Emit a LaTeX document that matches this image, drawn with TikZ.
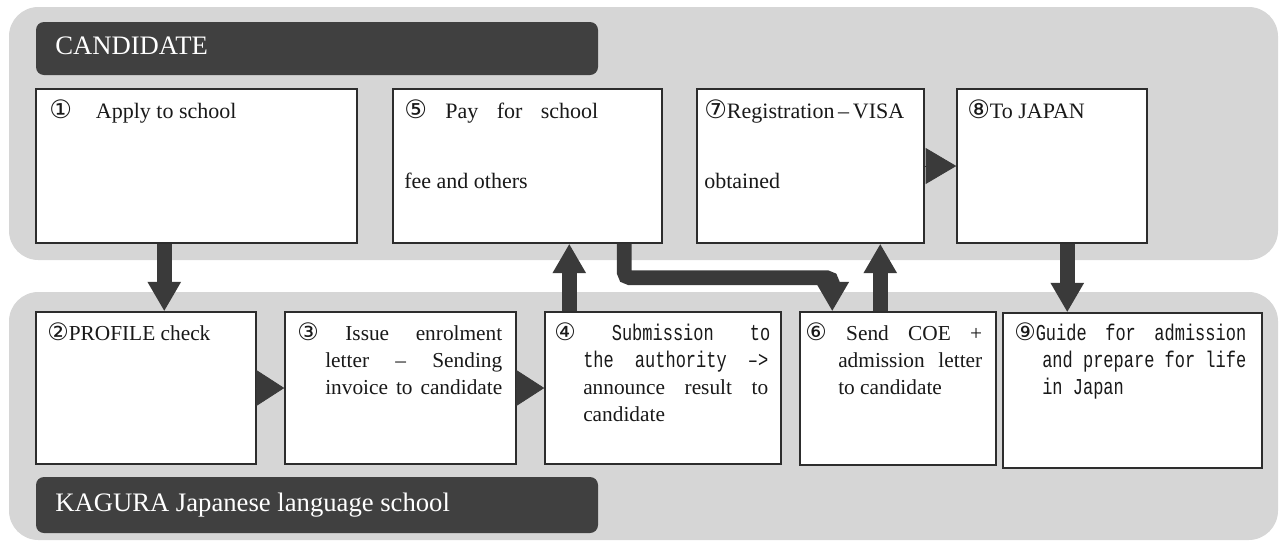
\documentclass[tikz,border=0pt]{standalone}
\usepackage{fontspec}
\setmainfont{Liberation Serif}
\newfontfamily\circf{DejaVu Sans}
\newfontfamily\monof[FakeStretch=0.75]{Liberation Mono}
\usetikzlibrary{arrows.meta,calc,fit}
\definecolor{panelgray}{RGB}{214,214,214}
\definecolor{bardark}{RGB}{64,64,64}
\definecolor{arrowdark}{RGB}{58,58,58}
\definecolor{boxline}{RGB}{45,45,45}
\definecolor{inktext}{RGB}{25,25,25}
\newcommand\pxd[1]{\dimexpr 0.75pt*#1\relax}
\newcommand\cnt[1]{{\circf\fontsize{19}{19}\selectfont #1}}
\newcommand\cnb[1]{{\circf\fontsize{18}{18}\selectfont #1}}
\begin{document}
\begin{tikzpicture}[x=0.75pt,y=-0.75pt,
  panelbox/.style={fill=panelgray, rounded corners=22pt, inner sep=0pt},
  barbox/.style={fill=bardark, rounded corners=6pt, inner sep=0pt},
  bartext/.style={text=white, font=\fontsize{20}{24}\selectfont, inner sep=0pt, anchor=base west},
  stepbox/.style={draw=boxline, fill=white, line width=1.1pt, inner sep=0pt},
  steptext/.style={text=inktext, inner sep=0pt, anchor=base west},
  bigarrow/.style={draw=arrowdark, line width=11pt, -{Triangle[length=22pt,width=23.5pt]}},
  chevron/.style={draw=arrowdark, fill=arrowdark, line width=0.6pt, -{Triangle[length=#1,width=27pt]}},
]
\useasboundingbox (0,0) rectangle (1282,540);
% lanes
\node[panelbox, fit={(9,7) (1278,260)}] (toppanel) {};
\node[panelbox, fit={(9,292) (1278,540)}] (botpanel) {};
\node[barbox, fit={(36,22) (598,75)}] (candbar) {};
\node[barbox, fit={(36,477) (598,533)}] (schoolbar) {};
\node[bartext] (candtxt) at (55,54) {CANDIDATE};
\node[bartext] (schooltxt) at (55,511) {KAGURA Japanese language school};
% boxes
\node[stepbox, fit={(36,89) (357,243)}] (b1) {};
\node[stepbox, fit={(393,89) (662,243)}] (b5) {};
\node[stepbox, fit={(697,89) (924,243)}] (b7) {};
\node[stepbox, fit={(957,89) (1147,243)}] (b8) {};
\node[stepbox, fit={(36,312) (256,464)}] (b2) {};
\node[stepbox, fit={(285,312) (516,464)}] (b3) {};
\node[stepbox, fit={(545,312) (781,464)}] (b4) {};
\node[stepbox, fit={(800,312) (996,465)}] (b6) {};
\node[stepbox, fit={(1003,313) (1262,468)}] (b9) {};
% texts
\node[steptext] (t1) at (49,118) {\fontsize{16.5}{20}\selectfont\cnt{①}\hspace{\pxd{24}}Apply to school};
\node[steptext] (t5) at (404,118) {\parbox[t]{\pxd{250}}{\fontsize{16.5}{52.5}\selectfont\lineskiplimit=-100pt
  \makebox[\pxd{194}][s]{\cnt{⑤} Pay for school}\par fee and others}};
\node[steptext] (t7) at (704,118) {\parbox[t]{\pxd{215}}{\fontsize{16.5}{52.5}\selectfont\lineskiplimit=-100pt
  \cnt{⑦}Registration\,–\,VISA\par obtained}};
\node[steptext] (t8) at (967,118) {\fontsize{16.5}{20}\selectfont\cnt{⑧}To JAPAN};
\node[steptext] (t2) at (47,340) {\fontsize{16}{20}\selectfont\cnb{②}PROFILE check};
\node[steptext] (t3) at (297,340) {\parbox[t]{\pxd{215}}{\fontsize{16}{20.25}\selectfont\lineskiplimit=-100pt
  \makebox[\pxd{205}][s]{\cnb{③} Issue enrolment}\par
  \hspace*{\pxd{28}}\makebox[\pxd{177}][s]{letter – Sending}\par
  \hspace*{\pxd{28}}\makebox[\pxd{177}][s]{invoice to candidate}}};
\node[steptext] (t4) at (554,340) {\parbox[t]{\pxd{222}}{\fontsize{16}{20.25}\selectfont\lineskiplimit=-100pt
  {\monof\fontsize{17}{20.25}\selectfont\makebox[\pxd{216}][s]{\cnb{④} Submission to}}\par
  \hspace*{\pxd{29}}{\monof\fontsize{17}{20.25}\selectfont\makebox[\pxd{185}][s]{the authority –>}}\par
  \hspace*{\pxd{29}}\makebox[\pxd{185}][s]{announce result to}\par
  \hspace*{\pxd{29}}candidate}};
\node[steptext] (t6) at (805,340) {\parbox[t]{\pxd{185}}{\fontsize{16}{20.25}\selectfont\lineskiplimit=-100pt
  \makebox[\pxd{177}][s]{\cnb{⑥} Send COE +}\par
  \hspace*{\pxd{33}}\makebox[\pxd{144}][s]{admission letter}\par
  \hspace*{\pxd{33}}to candidate}};
\node[steptext] (t9) at (1014,340) {\parbox[t]{\pxd{245}}{\monof\fontsize{17}{20.25}\selectfont\lineskiplimit=-100pt
  \makebox[\pxd{232}][s]{\cnb{⑨}Guide for admission}\par
  \hspace*{\pxd{28}}\makebox[\pxd{204}][s]{and prepare for life}\par
  \hspace*{\pxd{28}}in Japan}};
% connectors
\draw[bigarrow] ($(b1.south west)+(129,0)$) -- ($(b2.north west)+(129,0)$);
\draw[chevron=21pt] (b2.east) -- (b3.west);
\draw[chevron=21pt] (b3.east) -- (b4.west);
\draw[bigarrow] ($(b4.north west)+(25,0)$) -- ($(b5.south west)+(177,0)$);
\draw[bigarrow, rounded corners=4pt] ($(b5.south west)+(232,0)$) -- ++(0,34) -| ($(b6.north west)+(33,0)$);
\draw[bigarrow] ($(b6.north west)+(81,0)$) -- ($(b7.south west)+(184,0)$);
\draw[chevron=23pt] (b7.east) -- (b8.west);
\draw[bigarrow] ($(b8.south west)+(111,0)$) -- ($(b9.north west)+(65,0)$);
\end{tikzpicture}
\end{document}
